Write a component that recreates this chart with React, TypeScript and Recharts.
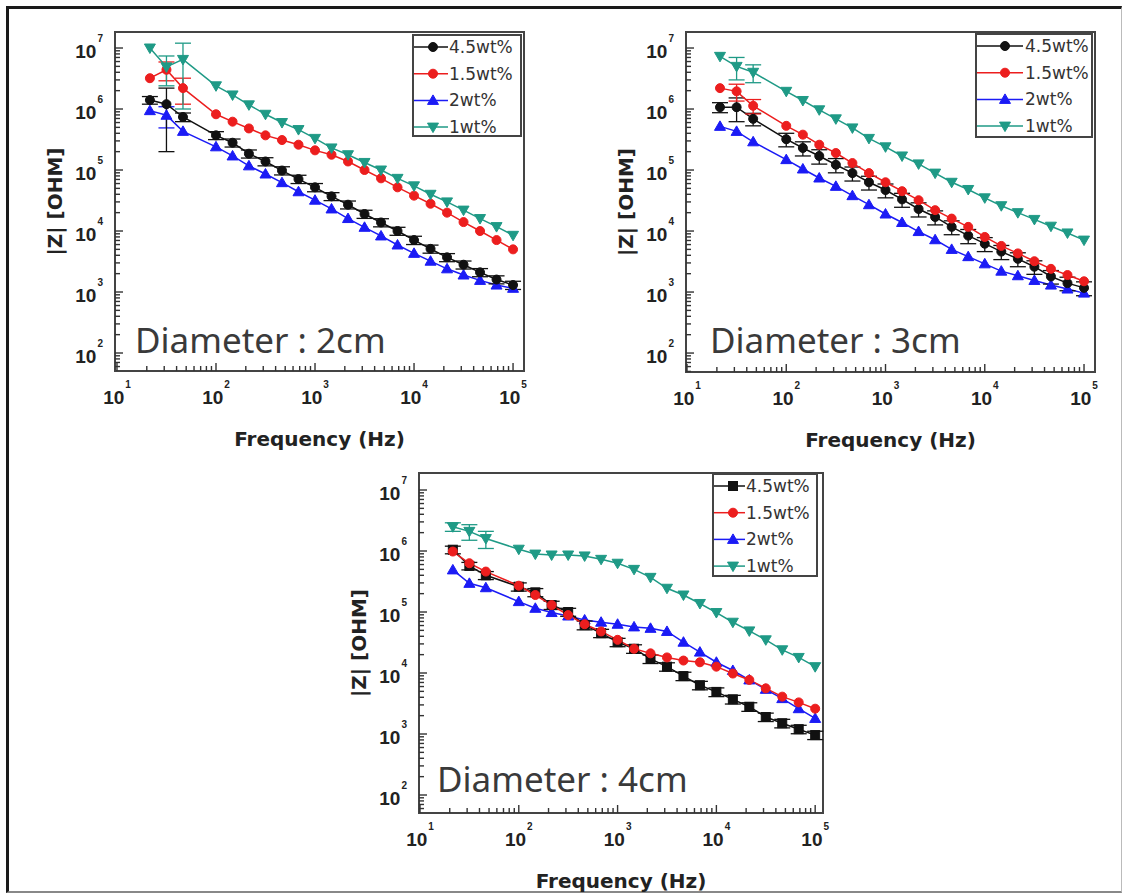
import React from 'react';
import { LineChart, Line, XAxis, YAxis, ErrorBar, ReferenceArea, Legend } from 'recharts';

// ---------- data ----------
const freqs = [21.5, 31.6, 46.4, 100, 147, 215, 316, 464, 681, 1000, 1468, 2154, 3162, 4642, 6813, 10000, 14678, 21544, 31623, 46416, 68129, 100000];

const seriesNames = ['4.5wt%', '1.5wt%', '2wt%', '1wt%'];
const seriesColors = ['#111111', '#ec1e1e', '#1b1bf5', '#1f9a86'];

const xMajorTicks = [10, 100, 1000, 10000, 100000];
const yMajorTicks = [100, 1000, 10000, 100000, 1000000, 10000000];

// Diameter 2cm
const p1_45 = [1.4e6, 1.2e6, 7.4e5, 3.7e5, 2.8e5, 1.85e5, 1.38e5, 9.8e4, 7.1e4, 5.2e4, 3.7e4, 2.7e4, 1.9e4, 1.38e4, 1.0e4, 7.1e3, 5.1e3, 3.7e3, 2.8e3, 2.1e3, 1.6e3, 1.3e3];
const p1_15 = [3.2e6, 4.4e6, 2.2e6, 8.2e5, 6.2e5, 4.8e5, 3.7e5, 3.1e5, 2.6e5, 2.1e5, 1.78e5, 1.38e5, 1.0e5, 7.3e4, 5.2e4, 3.8e4, 2.8e4, 2.0e4, 1.4e4, 1.0e4, 7.1e3, 5.0e3];
const p1_2 = [9.4e5, 7.9e5, 4.3e5, 2.4e5, 1.7e5, 1.17e5, 8.6e4, 6.2e4, 4.4e4, 3.2e4, 2.3e4, 1.6e4, 1.15e4, 8.3e3, 5.9e3, 4.3e3, 3.2e3, 2.4e3, 1.9e3, 1.55e3, 1.3e3, 1.15e3];
const p1_1 = [1.0e7, 4.9e6, 6.5e6, 2.4e6, 1.7e6, 1.17e6, 8.2e5, 6.0e5, 4.6e5, 3.3e5, 2.3e5, 1.78e5, 1.33e5, 1.0e5, 7.3e4, 5.5e4, 4.0e4, 3.0e4, 2.2e4, 1.6e4, 1.18e4, 8.5e3];
const p1_e45 = [2.0e5, 1.0e6, 1.2e5, 5.5e4, 4.2e4, 2.8e4, 2.1e4, 1.5e4, 1.1e4, 8.0e3, 5.5e3, 4.0e3, 2.9e3, 2.1e3, 1.5e3, 1.1e3, 7.7e2, 5.6e2, 4.2e2, 3.2e2, 2.4e2, 2.0e2];
const p1_e15 = [0, 1.5e6, 1.0e6, 0, 0, 0, 0, 0, 0, 0, 0, 0, 0, 0, 0, 0, 0, 0, 0, 0, 0, 0];
const p1_e2 = [0, 3.0e5, 0, 0, 0, 0, 0, 0, 0, 0, 0, 0, 0, 0, 0, 0, 0, 0, 0, 0, 0, 0];
const p1_e1 = [0, 2.5e6, 5.5e6, 0, 0, 0, 0, 0, 0, 0, 0, 0, 0, 0, 0, 0, 0, 0, 0, 0, 0, 0];

// Diameter 3cm
const p2_45 = [1.07e6, 1.07e6, 6.9e5, 3.2e5, 2.3e5, 1.7e5, 1.22e5, 8.9e4, 6.3e4, 4.7e4, 3.3e4, 2.3e4, 1.7e4, 1.17e4, 8.4e3, 6.2e3, 4.6e3, 3.5e3, 2.6e3, 1.8e3, 1.4e3, 1.17e3];
const p2_15 = [2.2e6, 1.95e6, 1.13e6, 5.3e5, 3.8e5, 2.6e5, 1.9e5, 1.3e5, 8.9e4, 6.3e4, 4.5e4, 3.2e4, 2.2e4, 1.6e4, 1.17e4, 8.0e3, 5.7e3, 4.3e3, 3.2e3, 2.4e3, 1.9e3, 1.5e3];
const p2_2 = [5.2e5, 4.3e5, 2.9e5, 1.48e5, 1.04e5, 7.4e4, 5.4e4, 3.8e4, 2.7e4, 1.9e4, 1.38e4, 9.8e3, 7.2e3, 5.0e3, 3.8e3, 2.9e3, 2.2e3, 1.85e3, 1.55e3, 1.3e3, 1.12e3, 9.6e2];
const p2_1 = [7.3e6, 5.0e6, 4.0e6, 1.95e6, 1.38e6, 9.7e5, 6.9e5, 4.9e5, 3.3e5, 2.4e5, 1.7e5, 1.26e5, 8.9e4, 6.3e4, 4.8e4, 3.5e4, 2.6e4, 2.0e4, 1.55e4, 1.2e4, 9.3e3, 7.1e3];
const p2_e45 = [2.0e5, 4.5e5, 1.6e5, 8.0e4, 6.0e4, 4.5e4, 3.2e4, 2.3e4, 1.6e4, 1.2e4, 8.5e3, 6.0e3, 4.4e3, 3.0e3, 2.2e3, 1.6e3, 1.2e3, 9.0e2, 6.5e2, 4.5e2, 3.5e2, 3.0e2];
const p2_e15 = [0, 6.0e5, 3.0e5, 0, 0, 0, 0, 0, 0, 0, 0, 0, 0, 0, 0, 0, 0, 0, 0, 0, 0, 0];
const p2_e2 = [0, 0, 0, 0, 0, 0, 0, 0, 0, 0, 0, 0, 0, 0, 0, 0, 0, 0, 0, 0, 0, 0];
const p2_e1 = [0, 2.0e6, 1.3e6, 0, 0, 0, 0, 0, 0, 0, 0, 0, 0, 0, 0, 0, 0, 0, 0, 0, 0, 0];

// Diameter 4cm
const p3_45 = [1.05e6, 5.7e5, 4.0e5, 2.6e5, 2.1e5, 1.3e5, 1.0e5, 6.1e4, 4.5e4, 3.2e4, 2.5e4, 1.7e4, 1.27e4, 8.9e3, 6.3e3, 4.9e3, 3.7e3, 2.8e3, 1.9e3, 1.5e3, 1.2e3, 9.6e2];
const p3_15 = [9.8e5, 6.3e5, 4.6e5, 2.7e5, 1.9e5, 1.3e5, 8.9e4, 6.3e4, 4.8e4, 3.5e4, 2.5e4, 2.1e4, 1.8e4, 1.6e4, 1.5e4, 1.27e4, 9.8e3, 7.7e3, 5.6e3, 4.1e3, 3.3e3, 2.6e3];
const p3_2 = [4.9e5, 2.95e5, 2.5e5, 1.48e5, 1.15e5, 9.8e4, 8.6e4, 7.4e4, 6.8e4, 6.3e4, 5.7e4, 5.4e4, 4.8e4, 3.2e4, 2.2e4, 1.5e4, 1.1e4, 7.7e3, 5.4e3, 3.8e3, 2.6e3, 1.8e3];
const p3_1 = [2.5e6, 2.1e6, 1.6e6, 1.07e6, 8.9e5, 8.6e5, 8.6e5, 8.3e5, 7.3e5, 6.3e5, 5.0e5, 3.7e5, 2.45e5, 1.9e5, 1.38e5, 9.8e4, 6.8e4, 4.9e4, 3.5e4, 2.4e4, 1.8e4, 1.27e4];
const p3_e45 = [1.5e5, 8.0e4, 6.0e4, 4.0e4, 3.2e4, 2.0e4, 1.5e4, 1.0e4, 7.0e3, 5.0e3, 4.0e3, 2.7e3, 2.0e3, 1.4e3, 1.0e3, 8.0e2, 6.0e2, 4.5e2, 3.0e2, 2.4e2, 1.9e2, 1.5e2];
const p3_e15 = [0, 0, 0, 0, 0, 0, 0, 0, 0, 0, 0, 0, 0, 0, 0, 0, 0, 0, 0, 0, 0, 0];
const p3_e2 = [0, 0, 0, 0, 0, 0, 0, 0, 0, 0, 0, 0, 0, 0, 0, 0, 0, 0, 0, 0, 0, 0];
const p3_e1 = [4.0e5, 6.0e5, 5.0e5, 0, 0, 0, 0, 0, 0, 0, 0, 0, 0, 0, 0, 0, 0, 0, 0, 0, 0, 0];

// ---------- helpers ----------
const withMinors = (majors: number[]) => {
  const out: number[] = [];
  majors.forEach((m, i) => {
    out.push(m);
    for (let k = 2; k <= 9; k++) out.push(m * k);
    if (i === 0) for (let k = 2; k <= 9; k++) out.push((m / 10) * k);
  });
  return out.sort((a, b) => a - b);
};

const isMajor = (v: number) => {
  const lg = Math.log10(v);
  return Math.abs(lg - Math.round(lg)) < 1e-6;
};

const TICK_FONT = '"Liberation Sans", Arial, sans-serif';
const TITLE_FONT = '"DejaVu Sans", sans-serif';
const TICK_COLOR = '#333';

const XTick = (props: any) => {
  const { x, y, payload } = props;
  const v = payload.value;
  const major = isMajor(v);
  const e = Math.round(Math.log10(v));
  return (
    <g>
      <line x1={x} x2={x} y1={y} y2={y - (major ? 8 : 5)} stroke={TICK_COLOR} strokeWidth={1.4} />
      {major && (
        <text x={x} y={y + 33} textAnchor="middle" fontFamily={TICK_FONT} fontWeight="bold" fontSize={19} fill="#222">
          10<tspan dx={1} dy={-16} fontSize={10}>{e}</tspan>
        </text>
      )}
    </g>
  );
};

const YTick = (props: any) => {
  const { x, y, payload } = props;
  const v = payload.value;
  const major = isMajor(v);
  const e = Math.round(Math.log10(v));
  return (
    <g>
      <line x1={x} x2={x + (major ? 8 : 5)} y1={y} y2={y} stroke={TICK_COLOR} strokeWidth={1.4} />
      {major && (
        <text x={x - 12} y={y + 10} textAnchor="end" fontFamily={TICK_FONT} fontWeight="bold" fontSize={19} fill="#222">
          10<tspan dx={1} dy={-16} fontSize={10}>{e}</tspan>
        </text>
      )}
    </g>
  );
};

const XTitle = (props: any) => {
  const vb = props.viewBox;
  return (
    <text x={vb.x + vb.width / 2} y={vb.y + 75} textAnchor="middle" fontFamily={TITLE_FONT} fontWeight="bold" fontSize={20} fill="#222">
      Frequency (Hz)
    </text>
  );
};

const YTitle = (props: any) => {
  const vb = props.viewBox;
  const cx = vb.x + vb.width - 60;
  const cy = vb.y + vb.height / 2;
  return (
    <text x={cx} y={cy} transform={`rotate(-90 ${cx} ${cy})`} textAnchor="middle" dominantBaseline="central" fontFamily={TITLE_FONT} fontWeight="bold" fontSize={20} fill="#222">
      |Z| [OHM]
    </text>
  );
};

const Marker = ({ shape, cx, cy, color }: any) => {
  if (shape === 'circle') return <circle cx={cx} cy={cy} r={4.5} fill={color} stroke={color} />;
  if (shape === 'square') return <rect x={cx - 4.5} y={cy - 4.5} width={9} height={9} fill={color} stroke={color} />;
  if (shape === 'up')
    return <polygon points={`${cx},${cy - 5.5} ${cx + 5.5},${cy + 4} ${cx - 5.5},${cy + 4}`} fill={color} stroke={color} />;
  return <polygon points={`${cx},${cy + 5.5} ${cx + 5.5},${cy - 4} ${cx - 5.5},${cy - 4}`} fill={color} stroke={color} />;
};

const makeDot = (shape: string, color: string) => (props: any) => {
  const { cx, cy, index } = props;
  if (cx == null || cy == null || isNaN(cx) || isNaN(cy)) return <g key={index} />;
  return <Marker key={index} shape={shape} cx={cx} cy={cy} color={color} />;
};

type LegendCfg = { x: number; y: number; w: number; h: number; lineEnd: number; markX: number; textX: number };

const makeLegend = (cfg: LegendCfg, shapes: string[]) => () => (
  <svg width={cfg.w} height={cfg.h} style={{ display: 'block' }}>
    <rect x={1} y={1} width={cfg.w - 2} height={cfg.h - 2} fill="#fff" stroke="#444" strokeWidth={2} />
    {seriesNames.map((name, i) => {
      const cy = 13 + i * 26.7;
      return (
        <g key={name}>
          <line x1={2} x2={cfg.lineEnd} y1={cy} y2={cy} stroke={seriesColors[i]} strokeWidth={1.5} />
          <Marker shape={shapes[i]} cx={cfg.markX} cy={cy} color={seriesColors[i]} />
          <text x={cfg.textX} y={cy + 6} fontFamily={TITLE_FONT} fontSize={17} fill="#333">
            {name}
          </text>
        </g>
      );
    })}
  </svg>
);

type PanelProps = {
  title: string;
  left: number;
  top: number;
  width: number;
  height: number;
  xDom: [number, number];
  yDom: [number, number];
  legend: LegendCfg;
  titlePos: { x: number; y: number };
  shapes: string[];
  series: number[][];
  errs: number[][];
};

const Panel = (p: PanelProps) => {
  const rows = freqs.map((f, i) => ({
    f,
    s0: p.series[0][i],
    s1: p.series[1][i],
    s2: p.series[2][i],
    s3: p.series[3][i],
    e0: p.errs[0][i],
    e1: p.errs[1][i],
    e2: p.errs[2][i],
    e3: p.errs[3][i],
  }));
  const xTicks = withMinors(xMajorTicks).filter((v) => v >= p.xDom[0] && v <= p.xDom[1]);
  const yTicks = withMinors(yMajorTicks).filter((v) => v >= p.yDom[0] && v <= p.yDom[1]);
  const drawOrder = [2, 0, 1, 3];
  return (
    <div style={{ position: 'absolute', left: p.left, top: p.top, width: p.width, height: p.height }}>
      <LineChart width={p.width} height={p.height} data={rows} margin={{ top: 10, right: 10, left: 0, bottom: 0 }}>
        <XAxis
          dataKey="f"
          type="number"
          scale="log"
          domain={p.xDom}
          allowDataOverflow
          ticks={xTicks}
          interval={0}
          tick={<XTick />}
          tickLine={false}
          axisLine={false}
          tickSize={0}
          tickMargin={0}
          height={80}
          label={<XTitle />}
        />
        <YAxis
          type="number"
          scale="log"
          domain={p.yDom}
          allowDataOverflow
          ticks={yTicks}
          interval={0}
          tick={<YTick />}
          tickLine={false}
          axisLine={false}
          tickSize={0}
          tickMargin={0}
          width={80}
          label={<YTitle />}
        />
        <ReferenceArea x1={p.xDom[0]} x2={p.xDom[1]} y1={p.yDom[0]} y2={p.yDom[1]} fill="none" stroke="#444" strokeWidth={2} ifOverflow="visible" />
        {drawOrder.map((i) => {
          const hasErr = p.errs[i].some((v) => v > 0);
          return (
            <Line
              key={i}
              dataKey={`s${i}`}
              name={seriesNames[i]}
              stroke={seriesColors[i]}
              strokeWidth={1.5}
              dot={makeDot(p.shapes[i], seriesColors[i])}
              activeDot={false}
              isAnimationActive={false}
            >
              {hasErr && <ErrorBar dataKey={`e${i}`} width={8} strokeWidth={1.3} stroke={seriesColors[i]} direction="y" />}
            </Line>
          );
        })}
        <Legend
          layout="horizontal"
          verticalAlign="middle"
          align="center"
          wrapperStyle={{ left: p.legend.x, top: p.legend.y, width: p.legend.w, height: p.legend.h }}
          content={makeLegend(p.legend, p.shapes)}
        />
      </LineChart>
      <svg width={p.width} height={p.height} style={{ position: 'absolute', left: 0, top: 0, pointerEvents: 'none' }}>
        <text x={p.titlePos.x} y={p.titlePos.y} fontFamily='"Noto Sans", "Open Sans", sans-serif' fontSize={35} fill="#3a3a3a">
          {p.title}
        </text>
      </svg>
    </div>
  );
};

export default function App() {
  return (
    <div style={{ position: 'absolute', left: 0, top: 0, width: 1126, height: 894, background: '#fff', overflow: 'hidden' }}>
      <div
        style={{
          position: 'absolute',
          left: 6,
          top: 6,
          width: 1112,
          height: 882,
          borderLeft: '3px solid #1a1a1a',
          borderTop: '3px solid #1a1a1a',
          borderRight: '1px solid #bbb',
          borderBottom: '2px solid #888',
        }}
      />
      <Panel
        title="Diameter : 2cm"
        left={35}
        top={22}
        width={499}
        height={429}
        xDom={[9.55, 129000]}
        yDom={[50.7, 1.83e7]}
        legend={{ x: 377, y: 12, w: 110, h: 103, lineEnd: 36, markX: 21, textX: 37 }}
        titlePos={{ x: 100, y: 331 }}
        shapes={['circle', 'circle', 'up', 'down']}
        series={[p1_45, p1_15, p1_2, p1_1]}
        errs={[p1_e45, p1_e15, p1_e2, p1_e1]}
      />
      <Panel
        title="Diameter : 3cm"
        left={606}
        top={22}
        width={499}
        height={430}
        xDom={[9.77, 129000]}
        yDom={[48.9, 1.83e7]}
        legend={{ x: 369, y: 11, w: 118, h: 105, lineEnd: 48, markX: 30, textX: 50 }}
        titlePos={{ x: 104, y: 331 }}
        shapes={['circle', 'circle', 'up', 'down']}
        series={[p2_45, p2_15, p2_2, p2_1]}
        errs={[p2_e45, p2_e15, p2_e2, p2_e1]}
      />
      <Panel
        title="Diameter : 4cm"
        left={339}
        top={463}
        width={494}
        height={430}
        xDom={[9.77, 120000]}
        yDom={[50.7, 1.9e7]}
        legend={{ x: 373, y: 10, w: 106, h: 104, lineEnd: 33, markX: 21, textX: 34 }}
        titlePos={{ x: 98, y: 329 }}
        shapes={['square', 'circle', 'up', 'down']}
        series={[p3_45, p3_15, p3_2, p3_1]}
        errs={[p3_e45, p3_e15, p3_e2, p3_e1]}
      />
    </div>
  );
}
